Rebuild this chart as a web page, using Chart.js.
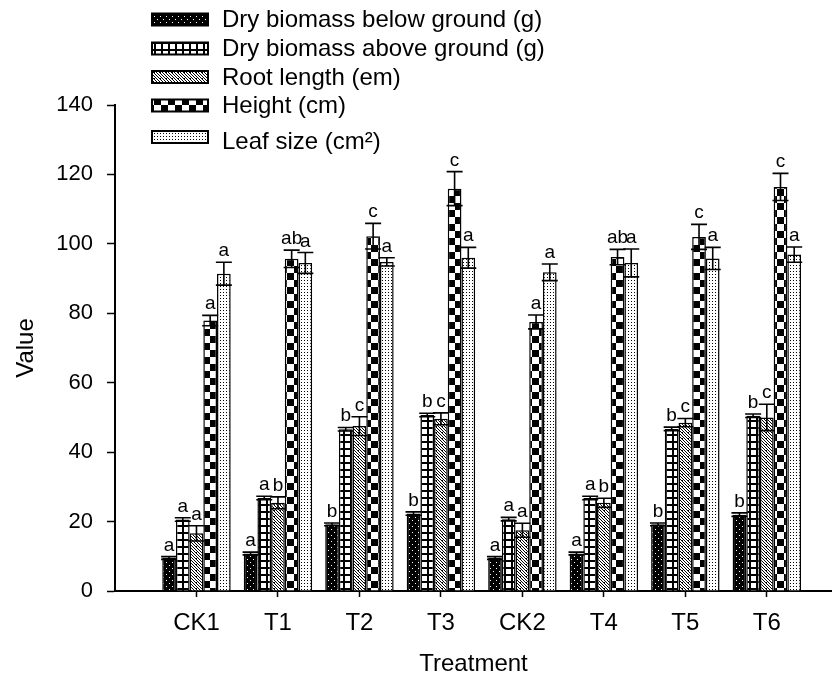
<!DOCTYPE html>
<html>
<head>
<meta charset="utf-8">
<script src="https://cdn.jsdelivr.net/npm/chart.js@4/dist/chart.umd.min.js"></script>
<style>
  html, body { margin: 0; padding: 0; background: #fff; }
  #chart { display: block; }
</style>
</head>
<body>
<canvas id="chart" width="832" height="679" style="width:832px;height:679px"></canvas>
<script>
const categories = ['CK1', 'T1', 'T2', 'T3', 'CK2', 'T4', 'T5', 'T6'];
const seriesNames = ['Dry biomass below ground (g)', 'Dry biomass above ground (g)', 'Root length (em)', 'Height (cm)', 'Leaf size (cm\u00B2)'];
const yTicks = [0, 20, 40, 60, 80, 100, 120, 140];

const belowValues  = [9.5, 10.8, 19.2, 22.3, 9.5, 10.8, 19.2, 22.0];
const belowErrors  = [0.4, 0.4, 0.4, 0.5, 0.4, 0.4, 0.4, 0.5];
const belowLetters = ['a', 'a', 'b', 'b', 'a', 'a', 'b', 'b'];

const aboveValues  = [20.6, 26.8, 46.6, 50.7, 20.7, 26.8, 46.7, 50.5];
const aboveErrors  = [0.5, 0.5, 0.5, 0.5, 0.5, 0.5, 0.5, 0.5];
const aboveLetters = ['a', 'a', 'b', 'b', 'a', 'a', 'b', 'b'];

const rootValues  = [16.6, 25.4, 47.5, 49.6, 17.5, 25.4, 48.5, 50.0];
const rootErrors  = [2.2, 1.7, 2.7, 1.7, 2.0, 1.3, 1.2, 3.8];
const rootLetters = ['a', 'b', 'c', 'c', 'a', 'b', 'c', 'c'];

const heightValues  = [77.9, 95.7, 102.2, 115.9, 77.5, 96.2, 102.0, 116.4];
const heightErrors  = [1.5, 2.5, 3.7, 4.9, 2.0, 2.2, 3.6, 3.9];
const heightLetters = ['a', 'ab', 'c', 'c', 'a', 'ab', 'c', 'c'];

const leafValues  = [91.4, 94.5, 94.8, 96.0, 91.8, 94.5, 95.8, 96.9];
const leafErrors  = [3.3, 3.0, 1.2, 3.0, 2.4, 4.0, 3.2, 2.2];
const leafLetters = ['a', 'a', 'a', 'a', 'a', 'a', 'a', 'a'];

const FONT = "'Liberation Sans', Arial, sans-serif";
const canvas = document.getElementById('chart');
const ctx = canvas.getContext('2d');

// black & white fill patterns like the original figure
function makePattern(w, h, draw) {
  const c = document.createElement('canvas');
  c.width = w; c.height = h;
  const g = c.getContext('2d');
  g.fillStyle = '#fff'; g.fillRect(0, 0, w, h);
  g.fillStyle = '#000';
  draw(g);
  return ctx.createPattern(c, 'repeat');
}

const patBelow = makePattern(6, 6, g => {
  g.fillRect(0, 0, 6, 6);
  g.fillStyle = '#fff';
  g.fillRect(1, 1, 1, 1);
  g.fillRect(4, 4, 1, 1);
});
const patAbove = makePattern(7, 7, g => {
  g.fillRect(0, 0, 7, 2);
  g.fillRect(0, 0, 2, 7);
});
const patRoot = makePattern(6, 6, g => {
  g.strokeStyle = '#000'; g.lineWidth = 1;
  g.beginPath();
  g.moveTo(-1, -1); g.lineTo(7, 7);
  g.moveTo(-1, 2); g.lineTo(4, 7);
  g.moveTo(2, -1); g.lineTo(7, 4);
  g.stroke();
  g.fillRect(4, 0, 1, 1);
});
const patHeight = makePattern(14, 14, g => {
  g.fillRect(0, 0, 7, 7);
  g.fillRect(7, 7, 7, 7);
});
const patLeaf = makePattern(3, 3, g => {
  g.fillRect(1, 1, 1, 1);
});

function toPoints(values) {
  return values.map((v, i) => ({ x: i + 1, y: v }));
}

const series = [
  { values: belowValues,  errors: belowErrors,  letters: belowLetters,  fill: patBelow },
  { values: aboveValues,  errors: aboveErrors,  letters: aboveLetters,  fill: patAbove },
  { values: rootValues,   errors: rootErrors,   letters: rootLetters,   fill: patRoot },
  { values: heightValues, errors: heightErrors, letters: heightLetters, fill: patHeight },
  { values: leafValues,   errors: leafErrors,   letters: leafLetters,   fill: patLeaf },
];

const datasets = series.map((s, i) => ({
  label: seriesNames[i],
  data: toPoints(s.values),
  errors: s.errors,
  letters: s.letters,
  backgroundColor: s.fill,
  borderColor: '#000',
  borderWidth: 1.5,
  categoryPercentage: 0.84,
  barPercentage: 1.0,
}));

// error bars (up and down with caps) plus significance letters
const errorBars = {
  id: 'errorBars',
  afterDatasetsDraw(chart) {
    const c = chart.ctx, y = chart.scales.y;
    c.save();
    c.strokeStyle = '#000';
    c.lineWidth = 1.6;
    c.fillStyle = '#000';
    c.font = '19px ' + FONT;
    c.textAlign = 'center';
    c.textBaseline = 'alphabetic';
    chart.data.datasets.forEach((ds, i) => {
      chart.getDatasetMeta(i).data.forEach((bar, j) => {
        const v = ds.data[j].y, e = ds.errors[j];
        const top = y.getPixelForValue(v + e);
        const bot = y.getPixelForValue(v - e);
        const hw = 8;
        c.beginPath();
        c.moveTo(bar.x, top); c.lineTo(bar.x, bot);
        c.moveTo(bar.x - hw, top); c.lineTo(bar.x + hw, top);
        c.moveTo(bar.x - hw, bot); c.lineTo(bar.x + hw, bot);
        c.stroke();
        c.fillText(ds.letters[j], bar.x, top - 6);
      });
    });
    c.restore();
  }
};

// vertical legend in the top-left, as in the figure
const sideLegend = {
  id: 'sideLegend',
  afterDraw(chart) {
    const c = chart.ctx;
    const rowY = [19.5, 48.5, 77, 105.5, 137];
    c.save();
    c.font = '24px ' + FONT;
    c.textBaseline = 'middle';
    c.textAlign = 'left';
    chart.data.datasets.forEach((ds, i) => {
      const cy = rowY[i];
      c.fillStyle = ds.backgroundColor;
      c.fillRect(152, cy - 6, 56, 12);
      c.strokeStyle = '#000';
      c.lineWidth = 2;
      c.strokeRect(152, cy - 6, 56, 12);
      c.fillStyle = '#000';
      c.fillText(ds.label, 222, cy + 1 + (i === 4 ? 4 : 0));
    });
    c.restore();
  }
};

new Chart(canvas, {
  type: 'bar',
  data: { datasets },
  plugins: [errorBars, sideLegend],
  options: {
    responsive: false,
    animation: false,
    devicePixelRatio: 1,
    layout: { padding: { top: 105, right: 0, left: 0, bottom: 0 } },
    plugins: { legend: { display: false }, tooltip: { enabled: false } },
    scales: {
      x: {
        type: 'linear',
        min: 0,
        max: 8.8,
        offset: false,
        afterFit: s => { s.height = 88; },
        afterBuildTicks: s => { s.ticks = categories.map((c, i) => ({ value: i + 1 })); },
        ticks: {
          callback: v => categories[v - 1] || '',
          color: '#000',
          font: { family: FONT, size: 24 },
          padding: 12,
          maxRotation: 0,
        },
        grid: { offset: false, drawOnChartArea: false, drawTicks: true, tickLength: 6, tickColor: '#000', tickWidth: 1.5 },
        border: { display: true, color: '#000', width: 2 },
        title: { display: true, text: 'Treatment', color: '#000', font: { family: FONT, size: 24 }, padding: { top: 0, bottom: 0 } },
      },
      y: {
        min: 0,
        max: 140,
        afterFit: s => { s.width = 115; },
        afterBuildTicks: s => { s.ticks = yTicks.map(v => ({ value: v })); },
        ticks: {
          color: '#000',
          font: { family: FONT, size: 22 },
          padding: 14,
        },
        grid: { drawOnChartArea: false, drawTicks: true, tickLength: 8, tickColor: '#000', tickWidth: 1.5 },
        border: { display: true, color: '#000', width: 2 },
        title: { display: true, text: 'Value', color: '#000', font: { family: FONT, size: 24 }, padding: { top: 12, bottom: 0 } },
      }
    }
  }
});
</script>
</body>
</html>
